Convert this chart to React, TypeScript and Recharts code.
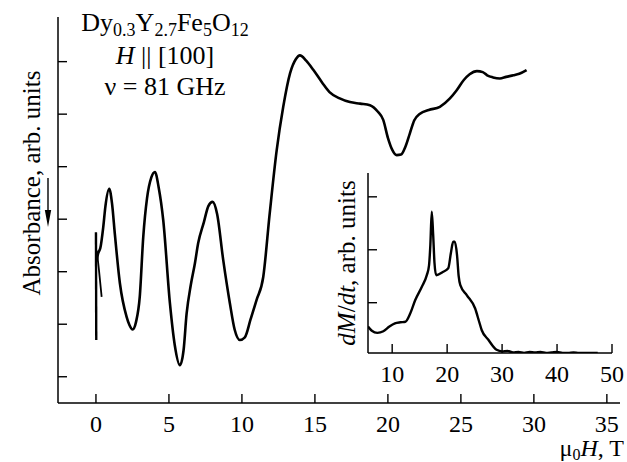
import { LineChart, Line, XAxis, YAxis } from "recharts";

// main trace: field (T) vs absorbance (arb. units, increasing upward on screen)
const fieldT = [
  0.04, 0.15, 0.3, 0.5, 0.65, 0.91, 1.1, 1.3, 1.64, 2.1, 2.3, 2.51, 2.75, 3.0,
  3.24, 3.5, 3.8, 4.04, 4.3, 4.61, 5.07, 5.4, 5.75, 6.0, 6.21, 6.5, 6.78, 7.0,
  7.4, 7.7, 7.99, 8.3, 8.72, 9.18, 9.5, 9.86, 10.2, 10.6, 11.0, 11.46, 11.9,
  12.38, 12.83, 13.3, 13.7, 13.97, 14.4, 14.9, 15.5, 16.0, 16.7, 17.4, 18.1,
  18.77, 19.3, 19.68, 20.0, 20.3, 20.6, 20.9, 21.2, 21.5, 21.8, 22.2, 22.8,
  23.56, 24.25, 24.7, 25.2, 25.6, 26.1, 26.5, 26.8, 27.2, 27.67, 28.1, 28.6,
  29.0, 29.5,
];
const absorbance = [
  3.2, 3.35, 3.45, 3.85, 4.25, 4.58, 4.3, 3.7, 2.78, 2.14, 1.98, 1.9, 2.05,
  2.52, 3.66, 4.4, 4.8, 4.9, 4.6, 3.98, 2.39, 1.6, 1.22, 1.5, 2.2, 2.75, 3.16,
  3.54, 3.95, 4.25, 4.33, 4.1, 3.22, 2.39, 1.9, 1.7, 1.75, 2.1, 2.46, 2.9,
  4.1, 5.31, 6.14, 6.78, 7.05, 7.12, 7.02, 6.84, 6.6, 6.42, 6.3, 6.23, 6.2,
  6.17, 6.05, 5.89, 5.55, 5.32, 5.22, 5.23, 5.38, 5.63, 5.88, 6.01, 6.08,
  6.14, 6.3, 6.45, 6.65, 6.76, 6.82, 6.8, 6.74, 6.7, 6.68, 6.71, 6.74, 6.77,
  6.84,
];

// start-of-pulse artefacts near zero field
const spikeField = [0.0, 0.02];
const spikeValue = [3.75, 1.7];
const hookField = [0.06, 0.2, 0.39];
const hookValue = [3.4, 3.05, 2.52];

// inset: dM/dt vs field
const insetField = [
  5.6, 6.3, 7.3, 8.4, 9.5, 10.5, 11.5, 12.4, 13.3, 14.2, 15.4, 16.3, 16.7,
  16.95, 17.2, 17.45, 17.7, 18.0, 19.2, 20.2, 20.7, 21.1, 21.4, 21.8, 22.1,
  22.4, 23.6, 25.1, 25.8, 26.3, 27.5, 29.0, 30, 31, 32, 33, 34, 35, 36, 37, 38,
  39, 40, 41, 42, 43, 44, 45, 46, 47.4,
];
const insetDmdt = [
  0.55, 0.47, 0.43, 0.46, 0.55, 0.61, 0.63, 0.64, 0.8, 1.05, 1.3, 1.52, 1.7,
  2.1, 2.72, 2.3, 1.75, 1.52, 1.58, 1.65, 1.95, 2.15, 2.15, 1.9, 1.5, 1.33,
  1.14, 0.89, 0.65, 0.48, 0.3, 0.11, 0.08, 0.09, 0.06, 0.07, 0.05, 0.07, 0.06,
  0.07, 0.05, 0.06, 0.07, 0.05, 0.05, 0.06, 0.05, 0.05, 0.05, 0.05,
];

const mainXTicks = [0, 5, 10, 15, 20, 25, 30, 35];
const mainYTicks = [1, 2, 3, 4, 5, 6, 7];
const insetXTicks = [10, 20, 30, 40, 50];
const insetYTicks = [1, 2, 3];

const mainData = fieldT.map((h, i) => ({ h, v: absorbance[i] }));
const spikeData = spikeField.map((h, i) => ({ h, v: spikeValue[i] }));
const hookData = hookField.map((h, i) => ({ h, v: hookValue[i] }));
const insetData = insetField.map((h, i) => ({ h, v: insetDmdt[i] }));

const FONT = "'Liberation Serif', 'Times New Roman', serif";
const INK = "#000";

function UpTick(props: any) {
  const { x, y, payload } = props;
  return (
    <g>
      <line x1={x} y1={y} x2={x} y2={y - 9} stroke={INK} strokeWidth={1.4} />
      <text
        x={x}
        y={y + 29}
        textAnchor="middle"
        fontSize={24}
        fontFamily={FONT}
        fill={INK}
      >
        {payload.value}
      </text>
    </g>
  );
}

function RightTick(props: any) {
  const { x, y } = props;
  return <line x1={x} y1={y} x2={x + 9} y2={y} stroke={INK} strokeWidth={1.4} />;
}

const layer: React.CSSProperties = { position: "absolute", left: 0, top: 0 };

export default function App() {
  return (
    <div style={{ position: "absolute", left: 0, top: 0, width: 627, height: 462, background: "#fff" }}>
      <div style={layer}>
        <LineChart width={627} height={462} margin={{ top: 17, left: 57, right: 7, bottom: 58 }}>
          <XAxis
            dataKey="h"
            type="number"
            domain={[-2.6, 35.9]}
            ticks={mainXTicks}
            allowDataOverflow
            height={1}
            tickSize={0}
            tickMargin={0}
            tickLine={false}
            tick={<UpTick />}
            axisLine={{ stroke: INK, strokeWidth: 1.5 }}
          />
          <YAxis
            type="number"
            domain={[0.5, 7.85]}
            ticks={mainYTicks}
            allowDataOverflow
            width={1}
            tickSize={0}
            tickMargin={0}
            tickLine={false}
            tick={<RightTick />}
            axisLine={{ stroke: INK, strokeWidth: 1.5 }}
          />
          <Line data={spikeData} dataKey="v" type="linear" stroke={INK} strokeWidth={2.4} dot={false} isAnimationActive={false} />
          <Line data={hookData} dataKey="v" type="linear" stroke={INK} strokeWidth={1.8} dot={false} isAnimationActive={false} />
          <Line data={mainData} dataKey="v" type="monotone" stroke={INK} strokeWidth={2.6} dot={false} isAnimationActive={false} />
        </LineChart>
      </div>

      <div style={layer}>
        <LineChart width={627} height={462} data={insetData} margin={{ top: 173, left: 367, right: 15, bottom: 108 }}>
          <XAxis
            dataKey="h"
            type="number"
            domain={[5.6, 50]}
            ticks={insetXTicks}
            allowDataOverflow
            height={1}
            tickSize={0}
            tickMargin={0}
            tickLine={false}
            tick={<UpTick />}
            axisLine={{ stroke: INK, strokeWidth: 1.5 }}
          />
          <YAxis
            type="number"
            domain={[0.05, 3.45]}
            ticks={insetYTicks}
            allowDataOverflow
            width={1}
            tickSize={0}
            tickMargin={0}
            tickLine={false}
            tick={<RightTick />}
            axisLine={{ stroke: INK, strokeWidth: 1.5 }}
          />
          <Line dataKey="v" type="monotone" stroke={INK} strokeWidth={2.4} dot={false} isAnimationActive={false} />
        </LineChart>
      </div>

      <svg width={627} height={462} style={{ ...layer, pointerEvents: "none" }} fontFamily={FONT} fill={INK}>
        <text x={165} y={31} textAnchor="middle" fontSize={26}>
          Dy<tspan fontSize={18} dy={5}>0.3</tspan>
          <tspan dy={-5}>Y</tspan>
          <tspan fontSize={18} dy={5}>2.7</tspan>
          <tspan dy={-5}>Fe</tspan>
          <tspan fontSize={18} dy={5}>5</tspan>
          <tspan dy={-5}>O</tspan>
          <tspan fontSize={18} dy={5}>12</tspan>
        </text>
        <text x={165} y={64} textAnchor="middle" fontSize={26}>
          <tspan fontStyle="italic">H</tspan> || [100]
        </text>
        <text x={165} y={95} textAnchor="middle" fontSize={26}>
          ν = 81 GHz
        </text>

        <text x={40} y={183} textAnchor="middle" fontSize={25} transform="rotate(-90 40 183)">
          Absorbance, arb. units
        </text>
        <line x1={48} y1={178} x2={48} y2={212} stroke={INK} strokeWidth={1.4} />
        <polygon points="44.8,210 51.2,210 48,227" fill={INK} />

        <text x={355} y={263} textAnchor="middle" fontSize={25} transform="rotate(-90 355 263)">
          <tspan fontStyle="italic">dM</tspan>/<tspan fontStyle="italic">dt</tspan>, arb. units
        </text>

        <text x={624} y={456} textAnchor="end" fontSize={24}>
          μ<tspan fontSize={16} dy={4}>0</tspan>
          <tspan dy={-4} fontStyle="italic">H</tspan>, T
        </text>
      </svg>
    </div>
  );
}
